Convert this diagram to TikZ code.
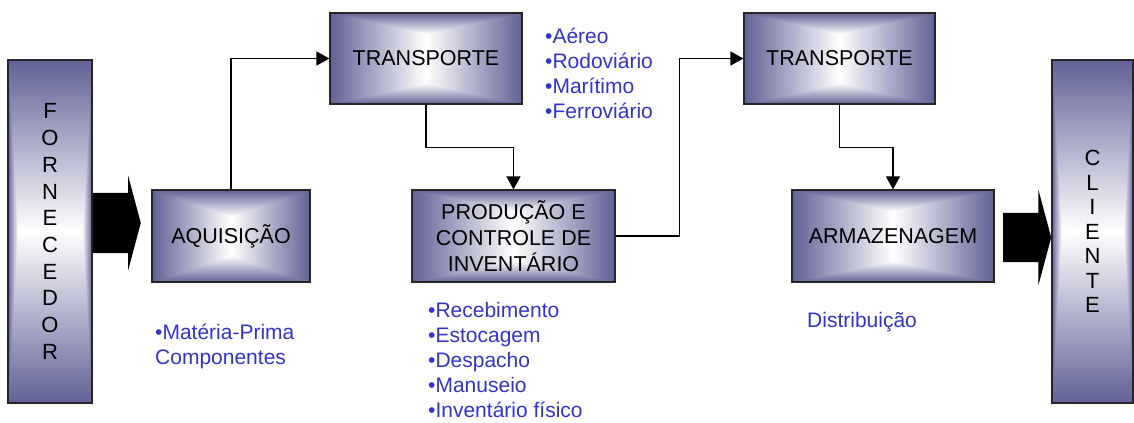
\documentclass[tikz,border=0pt]{standalone}
\usepackage{fontspec}
\setmainfont{Liberation Sans}
\usetikzlibrary{arrows.meta,shapes.arrows}
\definecolor{notetext}{RGB}{51,51,204}
% #1 name, #2 = long side / short side, #3 = 1 wide, 0 tall
\newcommand\declareboxshade[3]{%
  \pgfdeclarefunctionalshading{#1}{\pgfpoint{-50bp}{-50bp}}{\pgfpoint{50bp}{50bp}}{}{
    abs 25 div exch abs 25 div
    #3 1 eq {exch} if
    1 exch sub #2 mul 1 exch sub
    2 copy lt {exch} if pop
    dup 1 gt {pop 1} if dup 0 lt {pop 0} if
    dup 0.62 mul 1 exch sub exch
    dup 0.62 mul 1 exch sub exch
    0.41 mul 1 exch sub
  }}
\declareboxshade{wideshade}{2.15}{1}
\declareboxshade{aqshade}{1.72}{1}
\declareboxshade{tallshade}{4.15}{0}
\begin{document}
\begin{tikzpicture}[x=1bp,y=-1bp,
  box/.style={draw=black!85,line width=1.2bp,shading=wideshade,inner sep=0pt,align=center,
    font=\fontsize{21.5bp}{26bp}\selectfont},
  note/.style={anchor=north west,inner sep=0pt,align=left,text=notetext,
    font=\fontsize{21bp}{25bp}\selectfont},
  link/.style={line width=1.3bp,-{Triangle[length=13bp,width=14bp]}},
  bigarrow/.style={single arrow,fill=black,inner xsep=0pt,single arrow tip angle=150}
  ]
    \useasboundingbox (0,0) rectangle (1134,422);

    \node[box,shading=tallshade,minimum width=84bp,minimum height=343bp,font=\fontsize{22bp}{26.7bp}\selectfont] (forn) at (50,231.5) {F\\O\\R\\N\\E\\C\\E\\D\\O\\R};
    \node[box,shading=tallshade,minimum width=81bp,minimum height=343bp,font=\fontsize{22bp}{24.5bp}\selectfont] (cli) at (1092.5,231.5) {C\\L\\I\\E\\N\\T\\E};
    \node[box,shading=aqshade,minimum width=158bp,minimum height=92bp] (aq) at (231,236) {AQUISIÇÃO};
    \node[box,minimum width=192bp,minimum height=91bp] (tr1) at (426,58.5) {TRANSPORTE};
    \node[box,minimum width=203bp,minimum height=92bp] (prod) at (513.5,236) {PRODUÇÃO E\\CONTROLE DE\\INVENTÁRIO};
    \node[box,minimum width=191bp,minimum height=91bp] (tr2) at (839.5,58.5) {TRANSPORTE};
    \node[box,minimum width=202bp,minimum height=92bp] (arm) at (893,236) {ARMAZENAGEM};

    \node[bigarrow,inner ysep=30bp,single arrow head extend=17.5bp,minimum height=48bp,anchor=west] (entrada) at (forn.east |- 0,223) {};
    \node[bigarrow,inner ysep=24.5bp,single arrow head extend=23bp,minimum height=48bp,anchor=east] (saida) at (cli.west |- 0,237.5) {};

    \draw[link] (aq.north) |- (tr1.west);
    \draw[link] (tr1.south) -- ++(0,43) -| (prod.north);
    \draw[link] (prod.east) -- ++(64,0) |- (tr2.west);
    \draw[link] (tr2.south) -- ++(0,43) -| (arm.north);

    \node[note] (modais) at (545,28) {•Aéreo\\•Rodoviário\\•Marítimo\\•Ferroviário};
    \node[note] (insumos) at (155,324) {•Matéria-Prima\\Componentes};
    \node[note] (tarefas) at (428,302) {•Recebimento\\•Estocagem\\•Despacho\\•Manuseio\\•Inventário físico};
    \node[note] (distr) at (807,312) {Distribuição};
\end{tikzpicture}
\end{document}
